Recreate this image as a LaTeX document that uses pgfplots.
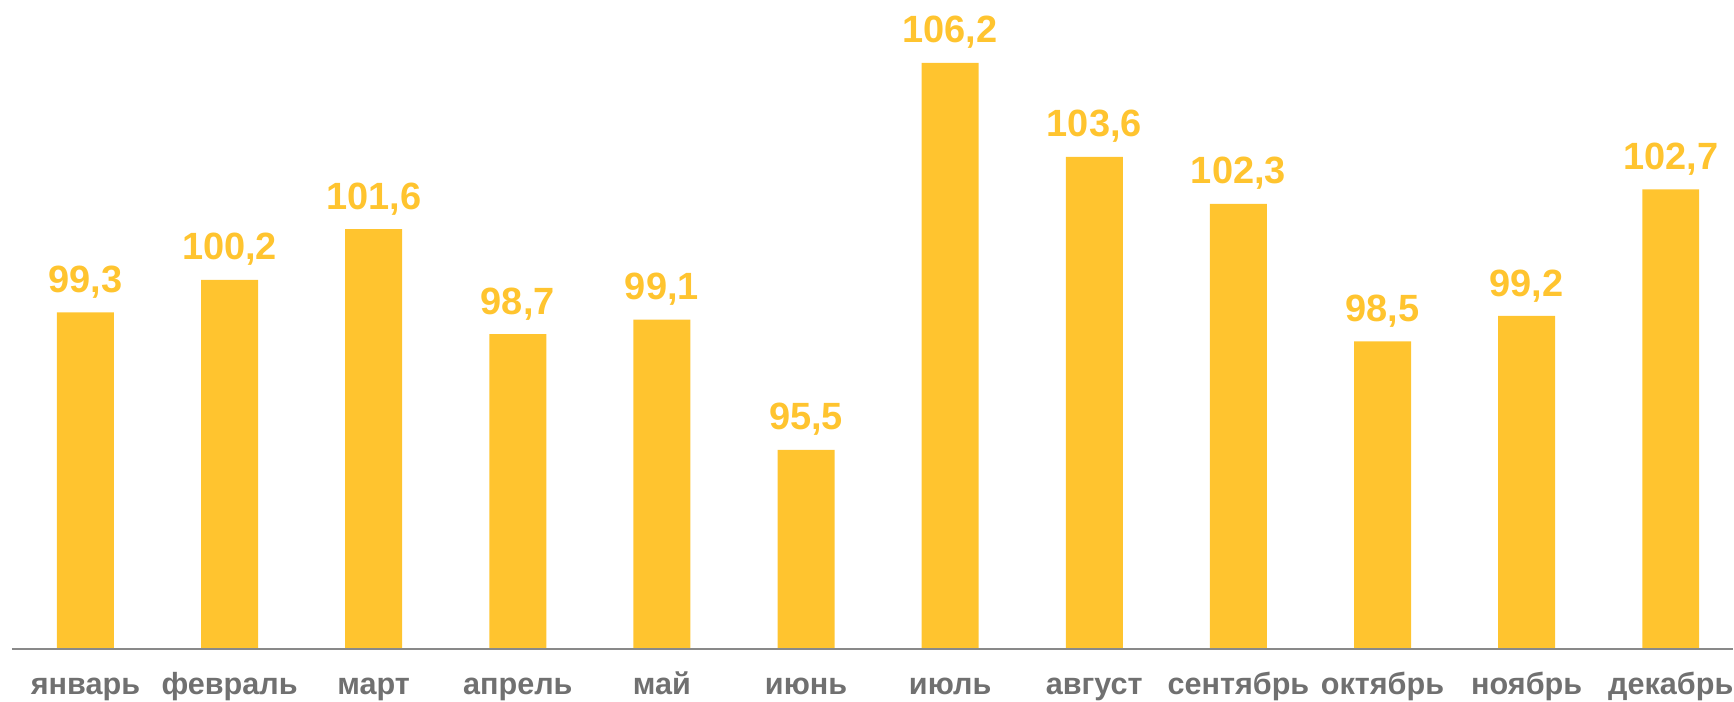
\documentclass[border=0pt]{standalone}
\usepackage{pgfplots}
\pgfplotsset{compat=1.18}
\usepackage{fontspec}
\setmainfont{Liberation Sans}
\definecolor{baryellow}{HTML}{FFC42F}
\definecolor{labgray}{HTML}{707070}
\definecolor{linegray}{HTML}{898989}
\begin{document}
\begin{tikzpicture}
\begin{axis}[
  scale only axis, width=867bp, height=324.5bp,
  xmin=-0.593, xmax=11.432, ymin=90, ymax=107.93,
  axis line style={draw=none}, major tick length=0pt,
  ytick=\empty,
  xtick={0,1,2,3,4,5,6,7,8,9,10,11},
  xticklabels={январь,февраль,март,апрель,май,июнь,июль,август,сентябрь,октябрь,ноябрь,декабрь},
  xticklabel style={anchor=base, yshift=-23bp, font=\fontsize{15.3bp}{19bp}\selectfont\bfseries, text=labgray, inner sep=0pt},
  clip=false,
  ybar, bar width=28.5bp,
  nodes near coords,
  every node near coord/.append style={anchor=base, yshift=10bp, inner sep=0pt, font=\fontsize{19bp}{23bp}\selectfont\bfseries, text=baryellow},
  /pgf/number format/.cd, use comma, fixed, fixed zerofill, precision=1, assume math mode=true,
]
\addplot[fill=baryellow, draw=none] coordinates {
(0,99.3) (1,100.2) (2,101.6) (3,98.7) (4,99.1) (5,95.5)
(6,106.2) (7,103.6) (8,102.3) (9,98.5) (10,99.2) (11,102.7)};
\draw[linegray, line width=1bp] (axis cs:-0.51,90) -- (axis cs:11.432,90);
\path (axis cs:-0.593,107.93) (axis cs:11.432,90);
\end{axis}
\end{tikzpicture}
\end{document}
